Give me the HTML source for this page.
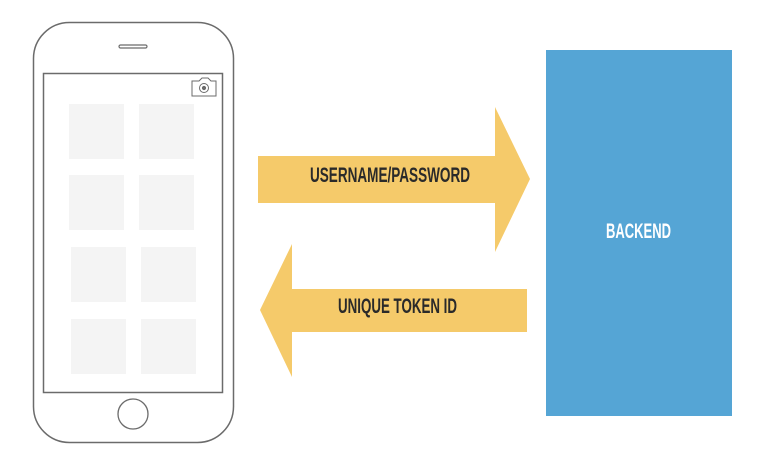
<!DOCTYPE html>
<html><head><meta charset="utf-8"><style>
html,body{margin:0;padding:0;background:#fff;}
svg{display:block;}
text{font-family:"Liberation Sans Narrow","Liberation Sans",sans-serif;font-weight:bold;}
</style></head><body>
<svg width="758" height="464" viewBox="0 0 758 464" xmlns="http://www.w3.org/2000/svg">
<rect x="33.5" y="22.5" width="200" height="420" rx="36" fill="#fff" stroke="#6b6b6b" stroke-width="1.5"/>
<rect x="43.5" y="73.5" width="179" height="319" fill="#fff" stroke="#6b6b6b" stroke-width="1.5"/>
<rect x="119" y="45" width="28" height="3" rx="1.5" fill="#fff" stroke="#6b6b6b" stroke-width="1.2"/>
<circle cx="133" cy="414" r="15" fill="#fff" stroke="#6b6b6b" stroke-width="1.3"/>
<g fill="none" stroke="#6b6b6b" stroke-width="1">
<path d="M192 81 h7 l3 -3 h6 l3 3 h5 v15 h-24 z"/>
<circle cx="204" cy="88" r="4.5"/>
<circle cx="204" cy="88" r="1.6" fill="#6b6b6b"/>
</g>
<g fill="#f4f4f4">
<rect x="69" y="104" width="55" height="55"/>
<rect x="139" y="104" width="55" height="55"/>
<rect x="69" y="175" width="55" height="55"/>
<rect x="139" y="175" width="55" height="55"/>
<rect x="71" y="247" width="55" height="55"/>
<rect x="141" y="247" width="55" height="55"/>
<rect x="71" y="319" width="55" height="55"/>
<rect x="141" y="319" width="55" height="55"/>
</g>
<polygon points="258,156 495,156 495,107 530,179 495,252 495,203 258,203" fill="#f5ca6a"/>
<polygon points="527,289 292,289 292,244 260,310 292,377 292,332 527,332" fill="#f5ca6a"/>
<text x="310" y="182" font-size="21" fill="#2a2a2a" textLength="160" lengthAdjust="spacingAndGlyphs">USERNAME/PASSWORD</text>
<text x="338" y="313" font-size="21" fill="#2a2a2a" textLength="119" lengthAdjust="spacingAndGlyphs">UNIQUE TOKEN ID</text>
<rect x="546" y="50" width="186" height="366" fill="#55a5d5"/>
<text x="606" y="238" font-size="21" fill="#fff" textLength="65" lengthAdjust="spacingAndGlyphs">BACKEND</text>
</svg>
</body></html>
